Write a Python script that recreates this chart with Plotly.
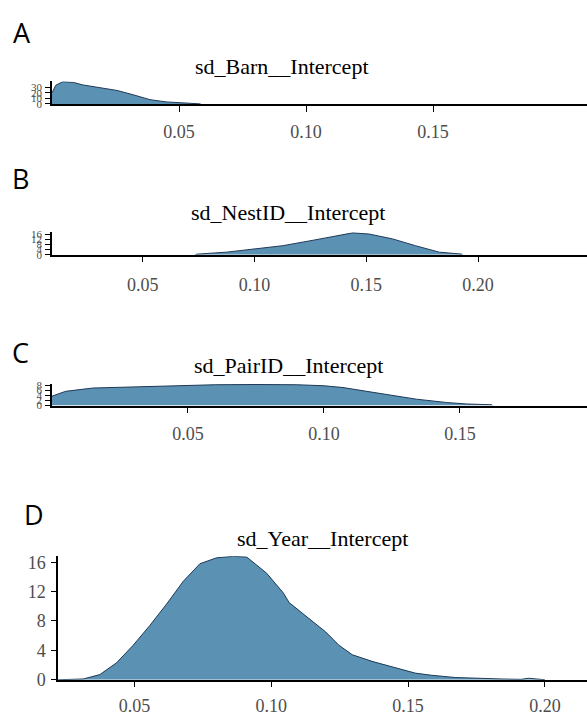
import plotly.graph_objects as go

W, H = 587, 724

# ---- data ----
barn_x = [0.0, 0.0015, 0.0043, 0.0085, 0.0122, 0.019, 0.0256, 0.032, 0.0386, 0.045, 0.0517, 0.0575, 0.0585]
barn_y = [20, 34, 40.5, 39, 34.5, 30, 24.5, 16.6, 7.7, 3.6, 1.8, 1.0, 0]

nest_x = [0.0735, 0.074, 0.0875, 0.099, 0.1126, 0.127, 0.135, 0.144, 0.1514, 0.1617, 0.172, 0.1826, 0.1925, 0.193]
nest_y = [0, 0.4, 2, 4.4, 7, 11.5, 14, 17, 16, 12.3, 7, 2, 0.5, 0]

pair_x = [0.0, 0.005, 0.015, 0.03, 0.045, 0.06, 0.075, 0.09, 0.1, 0.107, 0.1157, 0.1254, 0.134, 0.145, 0.1525, 0.1617, 0.162]
pair_y = [3.7, 5.6, 6.9, 7.3, 7.8, 8.2, 8.3, 8.2, 7.8, 7.1, 5.6, 3.9, 2.5, 1.2, 0.6, 0.3, 0]

year_x = [0.022, 0.0312, 0.0373, 0.0434, 0.0495, 0.0556, 0.0617, 0.0678, 0.0739, 0.08, 0.0861, 0.091,
          0.0983, 0.1044, 0.1065, 0.1126, 0.1199, 0.1247, 0.1296, 0.1368, 0.1453, 0.1526, 0.1587,
          0.1672, 0.1842, 0.1913, 0.194, 0.1963, 0.2]
year_y = [0, 0.1, 0.7, 2.3, 4.7, 7.4, 10.3, 13.4, 15.8, 16.6, 16.8, 16.7,
          14.5, 11.8, 10.5, 8.7, 6.5, 4.7, 3.4, 2.5, 1.6, 0.9, 0.6,
          0.3, 0.1, 0.05, 0.2, 0.1, 0]

panel_titles = ["sd_Barn__Intercept", "sd_NestID__Intercept", "sd_PairID__Intercept", "sd_Year__Intercept"]
panel_letters = ["A", "B", "C", "D"]

x_ticks = [[0.05, 0.10, 0.15], [0.05, 0.10, 0.15, 0.20], [0.05, 0.10, 0.15], [0.05, 0.10, 0.15, 0.20]]
y_ticks = [[0, 10, 20, 30], [0, 4, 8, 12, 16], [0, 2, 4, 6, 8], [0, 4, 8, 12, 16]]

series = [(barn_x, barn_y), (nest_x, nest_y), (pair_x, pair_y), (year_x, year_y)]

# ---- layout geometry (pixels) ----
x_left_px = [52, 52, 52, 58]
x_range = [[0, 0.2106], [0.0094, 0.2487], [0, 0.1967], [0.022, 0.2154]]
y_bot_px = [101, 255, 409, 689]
y_top_px = [78, 232, 387, 563]
y_range = [[0, 41], [0, 17.5], [0, 8.5], [0, 16.8]]
standoff = [5, 7, 5, 3]
title_pos = [(282, 63), (288, 212), (288, 368), (322, 545)]
letter_pos = [(22, 28), (20, 177), (20, 355), (34, 520)]

FILL = "#5b91b2"
LINE = "#1f3a57"
TICKCOL = "#4d4d4d"
SERIF = "Liberation Serif"

fig = go.Figure()
layout = dict(width=W, height=H, margin=dict(l=0, r=0, t=0, b=0),
              paper_bgcolor="white", plot_bgcolor="white", showlegend=False)
annotations = []

for i, (xs, ys) in enumerate(series):
    n = "" if i == 0 else str(i + 1)
    fig.add_trace(go.Scatter(x=xs, y=ys, mode="lines", fill="tozeroy",
                             fillcolor=FILL, line=dict(color=LINE, width=1),
                             xaxis="x" + n, yaxis="y" + n, hoverinfo="skip"))
    layout["xaxis" + n] = dict(
        domain=[x_left_px[i] / W, 1], range=x_range[i], anchor="y" + n,
        showline=True, linecolor="black", linewidth=1.5, ticks="outside",
        ticklen=6, tickcolor="black", tickwidth=1, showgrid=False, zeroline=False,
        tickvals=x_ticks[i], tickformat=".2f",
        tickfont=dict(family=SERIF, size=18, color=TICKCOL),
        ticklabelstandoff=standoff[i])
    small = i < 3
    layout["yaxis" + n] = dict(
        domain=[1 - y_bot_px[i] / H, 1 - y_top_px[i] / H], range=y_range[i],
        anchor="x" + n, showline=True, linecolor="black", linewidth=1.5,
        ticks="outside", ticklen=5, tickcolor="black", tickwidth=1,
        showgrid=False, zeroline=False, tickvals=y_ticks[i],
        tickfont=dict(family=SERIF, size=11 if small else 18, color=TICKCOL),
        ticklabelstandoff=1 if small else 2)
    tx, ty = title_pos[i]
    annotations.append(dict(text=panel_titles[i], x=tx / W, y=1 - ty / H,
                            xref="paper", yref="paper", showarrow=False,
                            xanchor="center", yanchor="middle",
                            font=dict(family=SERIF, size=22, color="black")))
    lx, ly = letter_pos[i]
    annotations.append(dict(text=panel_letters[i], x=lx / W, y=1 - ly / H,
                            xref="paper", yref="paper", showarrow=False,
                            xanchor="center", yanchor="middle",
                            font=dict(family="Open Sans", size=27, color="black")))

layout["annotations"] = annotations
fig.update_layout(**layout)
fig.write_html("out.html", config={"displayModeBar": False},
               post_script="document.body.style.margin='0px';document.body.style.overflow='hidden';")
